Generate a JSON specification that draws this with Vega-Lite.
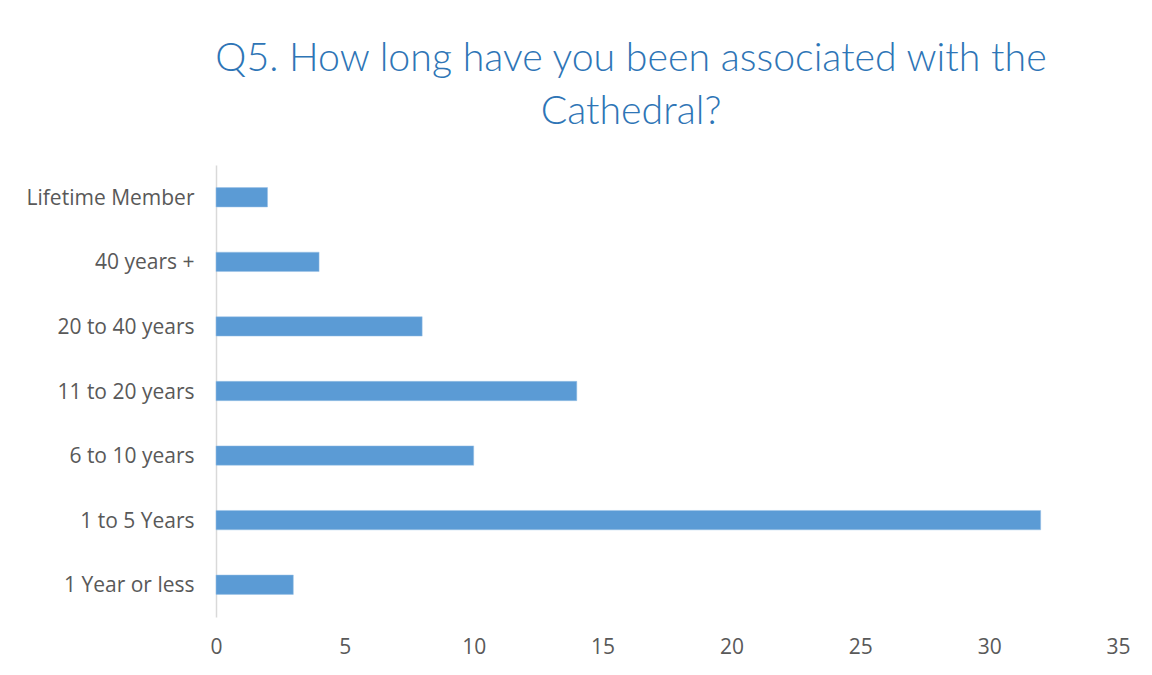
{
  "$schema": "https://vega.github.io/schema/vega-lite/v6.json",
  "width": 902,
  "height": 452,
  "autosize": "none",
  "padding": {"left": 216, "top": 165, "right": 34, "bottom": 58},
  "background": "white",
  "title": {
    "text": ["Q5. How long have you been associated with the", "Cathedral?"],
    "font": "Lato",
    "fontWeight": 300,
    "fontSize": 39.3,
    "lineHeight": 53,
    "color": "#2E75B6",
    "anchor": "middle",
    "dx": -36,
    "offset": 33
  },
  "data": {
    "values": [
      {"category": "Lifetime Member", "count": 2},
      {"category": "40 years +", "count": 4},
      {"category": "20 to 40 years", "count": 8},
      {"category": "11 to 20 years", "count": 14},
      {"category": "6 to 10 years", "count": 10},
      {"category": "1 to 5 Years\u00a0", "count": 32},
      {"category": "1 Year or less", "count": 3}
    ]
  },
  "mark": {"type": "bar", "color": "#5B9BD5", "stroke": "#9DC3E6", "strokeWidth": 0.5},
  "encoding": {
    "y": {
      "field": "category",
      "type": "nominal",
      "sort": null,
      "scale": {"paddingInner": 0.7, "paddingOuter": 0.35},
      "axis": {
        "title": null,
        "ticks": false,
        "domainColor": "#D9D9D9",
        "domainWidth": 1.5,
        "labelFont": "Open Sans",
        "labelFontSize": 21,
        "labelColor": "#595959",
        "labelPadding": 22,
        "labelOffset": 1.5
      }
    },
    "x": {
      "field": "count",
      "type": "quantitative",
      "scale": {"domain": [0, 35], "nice": false},
      "axis": {
        "title": null,
        "values": [0, 5, 10, 15, 20, 25, 30, 35],
        "grid": false,
        "domain": false,
        "ticks": false,
        "labelFont": "Open Sans",
        "labelFontSize": 21,
        "labelColor": "#595959",
        "labelPadding": 19,
        "labelFlush": false
      }
    }
  },
  "config": {"view": {"stroke": null}}
}
